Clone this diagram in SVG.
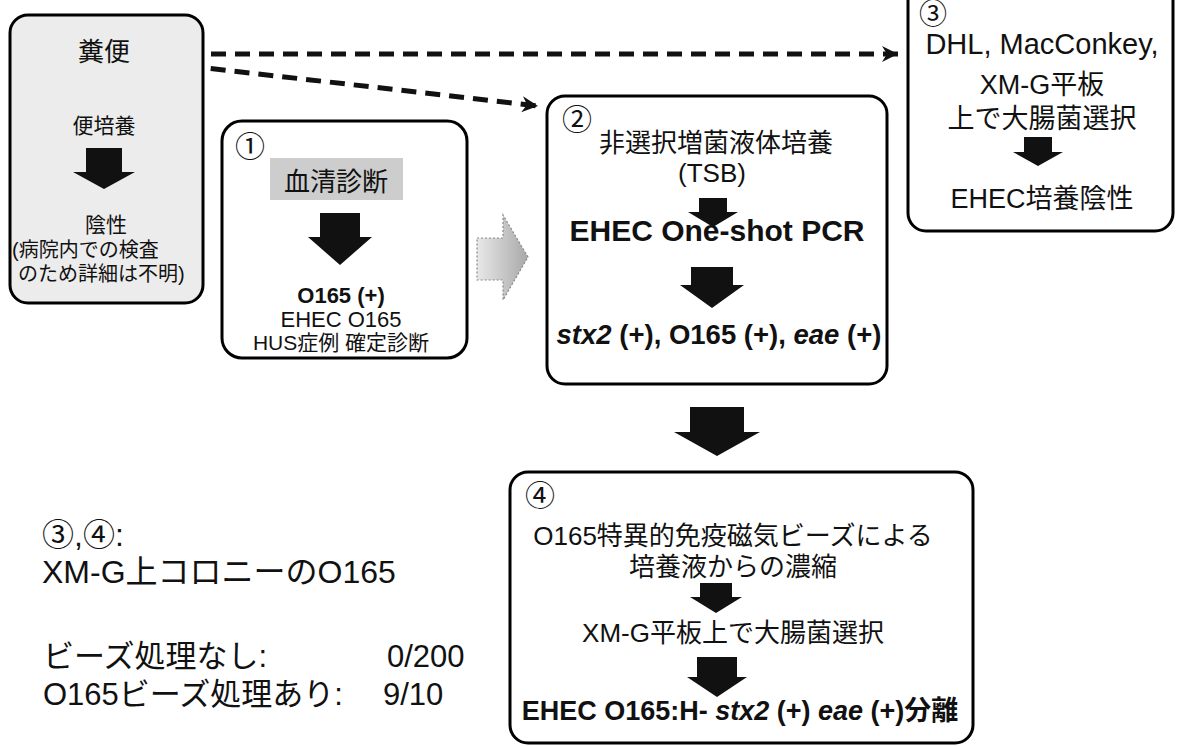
<svg xmlns="http://www.w3.org/2000/svg" width="1178" height="746" viewBox="0 0 1178 746">
<defs>
<style>
.box{fill:#fff;stroke:#000;stroke-width:3}
.boxg{fill:#ececec;stroke:#000;stroke-width:3}
.blk{fill:#111}
.t{font-family:"Liberation Sans","Noto Sans CJK JP",sans-serif;fill:#111}
.c{text-anchor:middle}
.b{font-weight:bold}
.dash{fill:none;stroke:#111;stroke-width:5;stroke-dasharray:15 9}
</style>
<marker id="chev" markerUnits="userSpaceOnUse" markerWidth="18" markerHeight="18" refX="16" refY="8" orient="auto" viewBox="0 0 18 16">
<path d="M0,0 L16,8 L0,16 L5,8 Z" fill="#111"/>
</marker>
<linearGradient id="gg" x1="0" y1="0" x2="1" y2="0">
<stop offset="0" stop-color="#e8e8e8"/>
<stop offset="1" stop-color="#a8a8a8"/>
</linearGradient>
</defs>
<rect width="1178" height="746" fill="#fff"/>

<g id="connectors">
<path class="dash" d="M163,54 L898,54" marker-end="url(#chev)"/>
<path class="dash" d="M163,63 L538,106" marker-end="url(#chev)"/>
<path d="M477,238 H503 V215 L528,257 L503,300 V280 H477 Z" fill="url(#gg)" stroke="#8a8a8a" stroke-width="1.2" stroke-dasharray="2 2"/>
<path class="blk" d="M690,407 H744 V432 H760 L717,456 L674,432 H690 Z"/>
</g>

<g id="node-feces">
<rect class="boxg" x="10" y="15" width="193" height="288" rx="18"/>
<text class="t c" x="104" y="61" font-size="26">糞便</text>
<text class="t c" x="104" y="133" font-size="21">便培養</text>
<path class="blk" d="M86,148 H122 V172 H135 L104,189 L73,172 H86 Z"/>
<text class="t c" x="106" y="232" font-size="21">陰性</text>
<text class="t" x="12" y="257" font-size="20">(病院内での検査</text>
<text class="t" x="18" y="281" font-size="20">のため詳細は不明)</text>
</g>

<g id="node-1">
<rect class="box" x="222" y="121" width="245" height="237" rx="20"/>
<text class="t c" x="250" y="157" font-size="30">①</text>
<rect x="270" y="158" width="133" height="42" fill="#cdcdcd"/>
<text class="t c" x="336" y="191" font-size="26">血清診断</text>
<path class="blk" d="M320,213 H360 V237 H372 L340,265 L308,237 H320 Z"/>
<text class="t c b" x="341" y="303" font-size="22">O165 (+)</text>
<text class="t c" x="341" y="327" font-size="22">EHEC O165</text>
<text class="t c" x="341" y="350" font-size="21">HUS症例 確定診断</text>
</g>

<g id="node-2">
<rect class="box" x="547" y="96" width="340" height="288" rx="18"/>
<text class="t c" x="577" y="130" font-size="30">②</text>
<text class="t c" x="716" y="152" font-size="26">非選択増菌液体培養</text>
<text class="t c" x="712" y="182" font-size="26">(TSB)</text>
<path class="blk" d="M699,198 H727 V212 H738 L713,227 L688,212 H699 Z"/>
<text class="t c b" x="717" y="241" font-size="30">EHEC One-shot PCR</text>
<path class="blk" d="M691,267 H733 V285 H744 L712,308 L680,285 H691 Z"/>
<text class="t c b" x="719" y="344" font-size="27.5"><tspan font-style="italic">stx2</tspan> (+), O165 (+), <tspan font-style="italic">eae</tspan> (+)</text>
</g>

<g id="node-3">
<rect class="box" x="908" y="-20" width="265" height="251" rx="18"/>
<text class="t c" x="933" y="24" font-size="28">③</text>
<text class="t c" x="1042" y="54" font-size="29">DHL, MacConkey,</text>
<text class="t c" x="1042" y="94" font-size="27">XM-G平板</text>
<text class="t c" x="1042" y="128" font-size="27">上で大腸菌選択</text>
<path class="blk" d="M1024,137 H1052 V152 H1063 L1038,166 L1013,152 H1024 Z"/>
<text class="t c" x="1042" y="208" font-size="27">EHEC培養陰性</text>
</g>

<g id="node-4">
<rect class="box" x="510" y="472" width="463" height="271" rx="18"/>
<text class="t c" x="540" y="506" font-size="30">④</text>
<text class="t c" x="733" y="545" font-size="26">O165特異的免疫磁気ビーズによる</text>
<text class="t c" x="733" y="576" font-size="26">培養液からの濃縮</text>
<path class="blk" d="M700,583 H732 V597 H742 L716,613 L690,597 H700 Z"/>
<text class="t c" x="733" y="642" font-size="26">XM-G平板上で大腸菌選択</text>
<path class="blk" d="M697,657 H737 V677 H747 L717,697 L687,677 H697 Z"/>
<text class="t c b" x="740" y="720" font-size="27">EHEC O165:H- <tspan font-style="italic">stx2</tspan> (+) <tspan font-style="italic">eae</tspan> (+)分離</text>
</g>

<g id="note">
<text class="t" x="42" y="546" font-size="32">③,④:</text>
<text class="t" x="42" y="583" font-size="32">XM-G上コロニーのO165</text>
<text class="t" x="43" y="667" font-size="31">ビーズ処理なし:</text>
<text class="t" x="387" y="667" font-size="31">0/200</text>
<text class="t" x="43" y="705" font-size="31">O165ビーズ処理あり:</text>
<text class="t" x="383" y="705" font-size="31">9/10</text>
</g>
</svg>
